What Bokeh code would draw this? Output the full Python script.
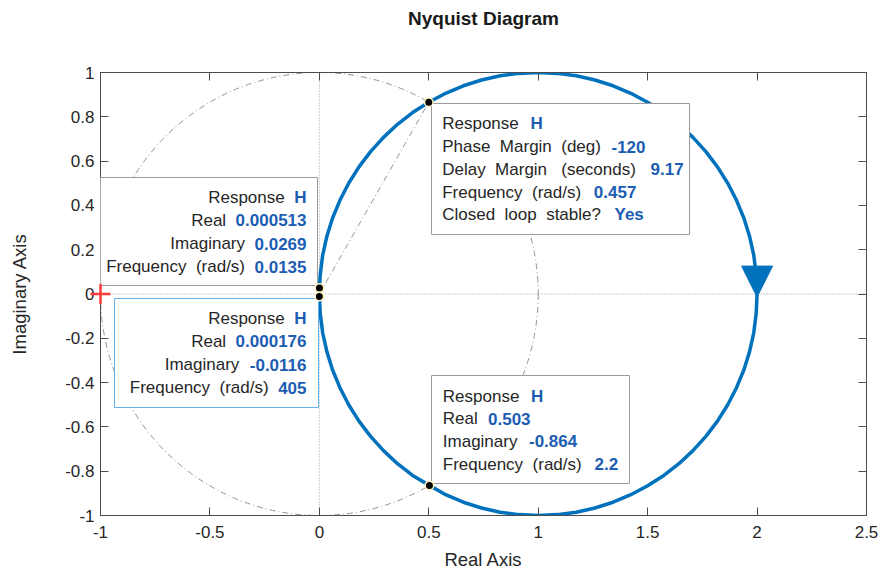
from bokeh.plotting import figure
from bokeh.models import (Range1d, FixedTicker, LinearAxis, Span, Label,
                          BoxAnnotation, Arrow, NormalHead)
from bokeh.embed import file_html
from bokeh.resources import INLINE

# Nyquist curve of H(jw) for w > 0 (from w = 0.0135 to w = 405 rad/s)
real_part = [0.000513, 0.004, 0.015, 0.034, 0.060, 0.094, 0.134, 0.181, 0.234,
             0.293, 0.357, 0.426, 0.500, 0.577, 0.658, 0.741, 0.826, 0.913,
             1.000, 1.087, 1.174, 1.259, 1.342, 1.423, 1.500, 1.574, 1.643,
             1.707, 1.766, 1.819, 1.866, 1.906, 1.940, 1.966, 1.985, 1.996,
             2.000, 1.996, 1.985, 1.966, 1.940, 1.906, 1.866, 1.819, 1.766,
             1.707, 1.643, 1.574, 1.500, 1.423, 1.342, 1.259, 1.174, 1.087,
             1.000, 0.913, 0.826, 0.741, 0.658, 0.577, 0.503, 0.426, 0.357,
             0.293, 0.234, 0.181, 0.134, 0.094, 0.060, 0.034, 0.015, 0.004,
             0.000176]
imag_part = [0.0269, 0.087, 0.174, 0.259, 0.342, 0.423, 0.500, 0.574, 0.643,
             0.707, 0.766, 0.819, 0.866, 0.906, 0.940, 0.966, 0.985, 0.996,
             1.000, 0.996, 0.985, 0.966, 0.940, 0.906, 0.866, 0.819, 0.766,
             0.707, 0.643, 0.574, 0.500, 0.423, 0.342, 0.259, 0.174, 0.087,
             0.000, -0.087, -0.174, -0.259, -0.342, -0.423, -0.500, -0.574,
             -0.643, -0.707, -0.766, -0.819, -0.866, -0.906, -0.940, -0.966,
             -0.985, -0.996, -1.000, -0.996, -0.985, -0.966, -0.940, -0.906,
             -0.864, -0.819, -0.766, -0.707, -0.643, -0.574, -0.500, -0.423,
             -0.342, -0.259, -0.174, -0.087, -0.0116]

# data tips on the response: low frequency, high frequency, lower crossing
tip_freq = [0.0135, 405, 2.2]
tip_real = [0.000513, 0.000176, 0.503]
tip_imag = [0.0269, -0.0116, -0.864]

# phase margin data tip
pm_real = 0.5
pm_imag = 0.866
pm_deg = -120
dm_sec = 9.17
pm_freq = 0.457
cl_stable = "Yes"

x_ticks = [-1, -0.5, 0, 0.5, 1, 1.5, 2, 2.5]
x_tick_labels = ["-1", "-0.5", "0", "0.5", "1", "1.5", "2", "2.5"]
y_ticks = [-1, -0.8, -0.6, -0.4, -0.2, 0, 0.2, 0.4, 0.6, 0.8, 1]
y_tick_labels = ["-1", "-0.8", "-0.6", "-0.4", "-0.2", "0", "0.2", "0.4",
                 "0.6", "0.8", "1"]

W, H = 879, 573
BL, BR, BT, BB = 100, 13, 72, 58
X0, X1, Y0, Y1 = -1.0, 2.5, -1.0, 1.0
FW, FH = W - BL - BR, H - BT - BB

FONT = "Liberation Sans"
AX = "#4d4d4d"
TXT = "#262626"
CURVE = "#0072BD"
VAL = "#1c5db3"
GUIDE = "#7a7a7a"


def fmt(v):
    return f"{v:.3g}"


def px_x(px):
    return X0 + (px - BL) * (X1 - X0) / FW


def px_y(py):
    return Y1 - (py - BT) * (Y1 - Y0) / FH


p = figure(width=W, height=H, x_range=Range1d(X0, X1), y_range=Range1d(Y0, Y1),
           output_backend="svg", toolbar_location=None,
           min_border_left=BL, min_border_right=BR,
           min_border_top=BT, min_border_bottom=BB)
p.grid.visible = False
p.background_fill_color = "white"
p.border_fill_color = "white"
p.outline_line_color = AX
p.outline_line_width = 1


def style_axis(ax, ticks, labels):
    ax.ticker = FixedTicker(ticks=ticks)
    ax.major_label_overrides = {t: s for t, s in zip(ticks, labels)}
    ax.minor_tick_line_color = None
    ax.major_tick_in = 8
    ax.major_tick_out = 0
    ax.major_tick_line_color = AX
    ax.axis_line_color = AX
    ax.major_label_text_font = FONT
    ax.major_label_text_font_size = "17px"
    ax.major_label_text_color = TXT
    ax.axis_label_text_font = FONT
    ax.axis_label_text_font_size = "18.5px"
    ax.axis_label_text_font_style = "normal"
    ax.axis_label_text_color = TXT


style_axis(p.xaxis[0], x_ticks, x_tick_labels)
style_axis(p.yaxis[0], y_ticks, y_tick_labels)
p.xaxis.axis_label = "Real Axis"
p.yaxis.axis_label = "Imaginary Axis"
p.xaxis.major_label_standoff = 10
p.xaxis.axis_label_standoff = 8
p.yaxis.major_label_standoff = 6
p.yaxis.axis_label_standoff = 32

# mirrored ticks on the top and right edges of the box; the top one
# carries the chart title
axes = {}
for side, ticks in (("above", x_ticks), ("right", y_ticks)):
    ax = LinearAxis(ticker=FixedTicker(ticks=ticks), major_tick_in=8,
                    major_tick_out=0, major_tick_line_color=AX,
                    axis_line_color=AX, minor_tick_line_color=None,
                    major_label_text_font_size="1px",
                    major_label_text_color=None, major_label_standoff=0)
    p.add_layout(ax, side)
    axes[side] = ax
top = axes["above"]
top.axis_label = "Nyquist Diagram"
top.axis_label_text_font = FONT
top.axis_label_text_font_size = "19px"
top.axis_label_text_font_style = "bold"
top.axis_label_text_color = "#1a1a1a"
top.axis_label_standoff = 44

# zero lines
for dim in ("width", "height"):
    p.add_layout(Span(location=0, dimension=dim, line_color="#9a9a9a",
                      line_width=1, line_dash="1 2", level="underlay"))

# unit circle and the phase margin ray
p.ellipse(x=0, y=0, width=2, height=2, fill_alpha=0, line_color=GUIDE,
          line_width=0.8, line_dash="6 3 1 3")
p.line([0, pm_real], [0, pm_imag], line_color=GUIDE, line_width=0.8,
       line_dash="6 3 1 3")

# response
p.line(real_part, imag_part, line_color=CURVE, line_width=3.5)
x_tip = max(real_part)
p.add_layout(Arrow(end=NormalHead(size=31, fill_color=CURVE, line_color=CURVE,
                                  line_width=1),
                   x_start=x_tip, y_start=0.12, x_end=x_tip, y_end=-0.014,
                   line_alpha=0))


def box(l, t, r, b, color):
    p.add_layout(BoxAnnotation(left=px_x(l), right=px_x(r), top=px_y(t),
                               bottom=px_y(b), fill_color="white",
                               fill_alpha=1, line_color=color, line_width=1,
                               line_alpha=1))


def text(px, py, s, align, bold=False):
    p.add_layout(Label(x=px_x(px), y=px_y(py), text=s, text_align=align,
                       text_baseline="middle", text_font=FONT,
                       text_font_size="17px",
                       text_font_style="bold" if bold else "normal",
                       text_color=VAL if bold else TXT))


NB = "\u00a0"
labels_xy = ["Response", "Real", "Imaginary", "Frequency" + NB + " (rad/s)"]

# right-aligned tips at low and high frequency
DIGIT_W = {".": 0.278, "-": 0.333, "H": 0.722}


def bold_width(s):
    return sum(DIGIT_W.get(c, 0.556) for c in s) * 17


for i, (l, t, r, b, col) in enumerate([(89, 177, 317, 285, "#9a9a9a"),
                                       (114, 298, 318, 407, "#62b2ec")]):
    box(l, t, r, b, col)
    vals = ["H", fmt(tip_real[i]), fmt(tip_imag[i]), fmt(tip_freq[i])]
    for k, (lab, v) in enumerate(zip(labels_xy, vals)):
        yy = t + 19.5 + 23.3 * k
        text(306, yy, v, "right", bold=True)
        text(306 - bold_width(v) - 9.5, yy, lab, "right")

# lower crossing tip
box(431, 375, 629, 483, "#9a9a9a")
vals = ["H", fmt(tip_real[2]), fmt(tip_imag[2]), fmt(tip_freq[2])]
val_x = [530.5, 487.5, 528.5, 594]
for k, (lab, v) in enumerate(zip(labels_xy, vals)):
    yy = 395.7 + 22.6 * k
    text(442.3, yy, lab, "left")
    text(val_x[k], yy, v, "left", bold=True)

# phase margin tip
box(431, 103, 689, 234, "#9a9a9a")
pm_labels = ["Response", "Phase" + NB + " Margin" + NB + " (deg)",
             "Delay" + NB + " Margin" + NB + NB + " (seconds)",
             "Frequency" + NB + " (rad/s)",
             "Closed" + NB + " loop" + NB + " stable?"]
pm_vals = ["H", fmt(pm_deg), fmt(dm_sec), fmt(pm_freq), cl_stable]
pm_x = [530, 611, 650, 593.3, 614]
for k, (lab, v) in enumerate(zip(pm_labels, pm_vals)):
    yy = 123.3 + 22.75 * k
    text(441.7, yy, lab, "left")
    text(pm_x[k], yy, v, "left", bold=True)

# critical point and data tip markers, drawn above the axes
p.scatter([-1], [0], marker="cross", size=20, line_color="#ff3b3b",
          line_width=2.5, level="overlay")
p.scatter(tip_real + [pm_real], tip_imag + [pm_imag], size=8.5,
          fill_color="black", line_color="#fff3bf", line_width=1.5,
          level="overlay")

open("out.html", "w").write(file_html(p, INLINE))
